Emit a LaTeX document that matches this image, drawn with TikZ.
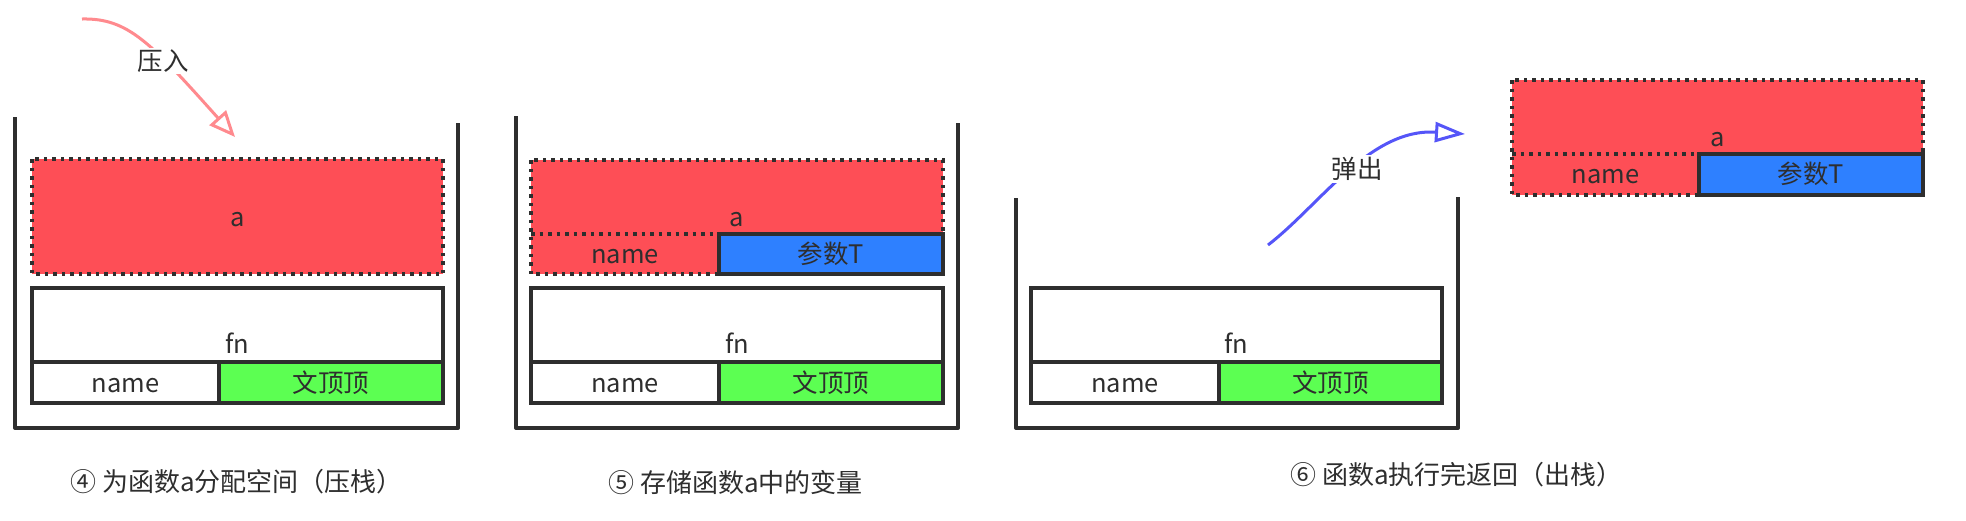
\documentclass[tikz,border=0pt]{standalone}
\usepackage{fontspec}
\setmainfont{Noto Sans CJK SC}
\usetikzlibrary{arrows.meta}
\definecolor{inkgray}{HTML}{2E2E2E}
\definecolor{framered}{HTML}{FE4E56}
\definecolor{argblue}{HTML}{2E80FF}
\definecolor{ctxgreen}{HTML}{5CFF52}
\definecolor{pushpink}{HTML}{FF8A8E}
\definecolor{popblue}{HTML}{5555F8}

\begin{document}
\begin{tikzpicture}[x=1pt,y=-1pt,
  wall/.style={draw=inkgray,line width=4pt,line join=round},
  solidbox/.style={draw=inkgray,line width=4pt},
  dotbox/.style={draw=inkgray,line width=3.5pt,dash pattern=on 3.5pt off 5pt},
  lbl/.style={font=\fontsize{25.5}{30}\selectfont,text=inkgray,inner sep=0pt,anchor=base},
  captext/.style={font=\fontsize{26}{30}\selectfont,text=inkgray,inner sep=0pt,anchor=west},
  tag/.style={font=\fontsize{25.5}{30}\selectfont,text=inkgray,fill=white,inner sep=2pt}]
\useasboundingbox (0,0) rectangle (1966,520);
\draw[pushpink,line width=3pt,-{Triangle[open,length=26pt,width=22pt]}] (82,19) coordinate (pushS) .. controls (128,18) and (150,42) .. (235,137) coordinate (pushE);
\node[tag] (push) at (163,61) {压入};
\draw[wall] (15,117) -- (15,428) -- (458,428) -- (458,123);
\fill[framered] (32,159) rectangle (443,274);
\draw[dotbox] (32,159) rectangle (443,274);
\node[lbl] (a1) at (237.5,226) {a};
\fill[ctxgreen] (219,362) rectangle (443,403);
\draw[solidbox] (32,288) rectangle (443,403);
\draw[solidbox] (32,362) -- (443,362);
\draw[solidbox] (219,362) -- (219,403);
\node[lbl] (fn1) at (237.5,353) {fn};
\node[lbl] (name1) at (125.5,392) {name};
\node[lbl] (ctx1) at (331,392) {文顶顶};
\node[captext] (cap1) at (70,482) {④ 为函数a分配空间（压栈）};
\draw[wall] (516,116) -- (516,428) -- (958,428) -- (958,123);
\fill[framered] (531,160) rectangle (943,274);
\fill[argblue] (719,234) rectangle (943,274);
\draw[dotbox] (531,160) rectangle (943,274);
\draw[dotbox] (531,234) -- (719,234);
\draw[solidbox] (719,234) rectangle (943,274);
\node[lbl] (a2) at (737,226) {a};
\node[lbl] (name2) at (625,263) {name};
\node[lbl] (arg2) at (831,263) {参数T};
\fill[ctxgreen] (719,362) rectangle (943,403);
\draw[solidbox] (531,288) rectangle (943,403);
\draw[solidbox] (531,362) -- (943,362);
\draw[solidbox] (719,362) -- (719,403);
\node[lbl] (fn2) at (737,353) {fn};
\node[lbl] (name2b) at (625,392) {name};
\node[lbl] (ctx2) at (831,392) {文顶顶};
\node[captext] (cap2) at (608,483) {⑤ 存储函数a中的变量};
\draw[wall] (1016,198) -- (1016,428) -- (1458,428) -- (1458,197);
\fill[ctxgreen] (1219,362) rectangle (1442,403);
\draw[solidbox] (1031,288) rectangle (1442,403);
\draw[solidbox] (1031,362) -- (1442,362);
\draw[solidbox] (1219,362) -- (1219,403);
\node[lbl] (fn3) at (1236.5,353) {fn};
\node[lbl] (name3) at (1125,392) {name};
\node[lbl] (ctx3) at (1330.5,392) {文顶顶};
\draw[popblue,line width=3pt,-{Triangle[open,length=30pt,width=20pt]}] (1268,245) coordinate (popS) .. controls (1320,205) and (1370,128) .. (1465,134) coordinate (popE);
\node[tag] (pop) at (1357,169) {弹出};
\fill[framered] (1512,80) rectangle (1923,195);
\fill[argblue] (1699,154) rectangle (1923,195);
\draw[dotbox] (1512,80) rectangle (1923,195);
\draw[dotbox] (1512,154) -- (1699,154);
\draw[solidbox] (1699,154) rectangle (1923,195);
\node[lbl] (a3) at (1717.5,146) {a};
\node[lbl] (name3b) at (1605.5,183) {name};
\node[lbl] (arg3) at (1811,183) {参数T};
\node[captext] (cap3) at (1290,475) {⑥ 函数a执行完返回（出栈）};
\end{tikzpicture}
\end{document}
